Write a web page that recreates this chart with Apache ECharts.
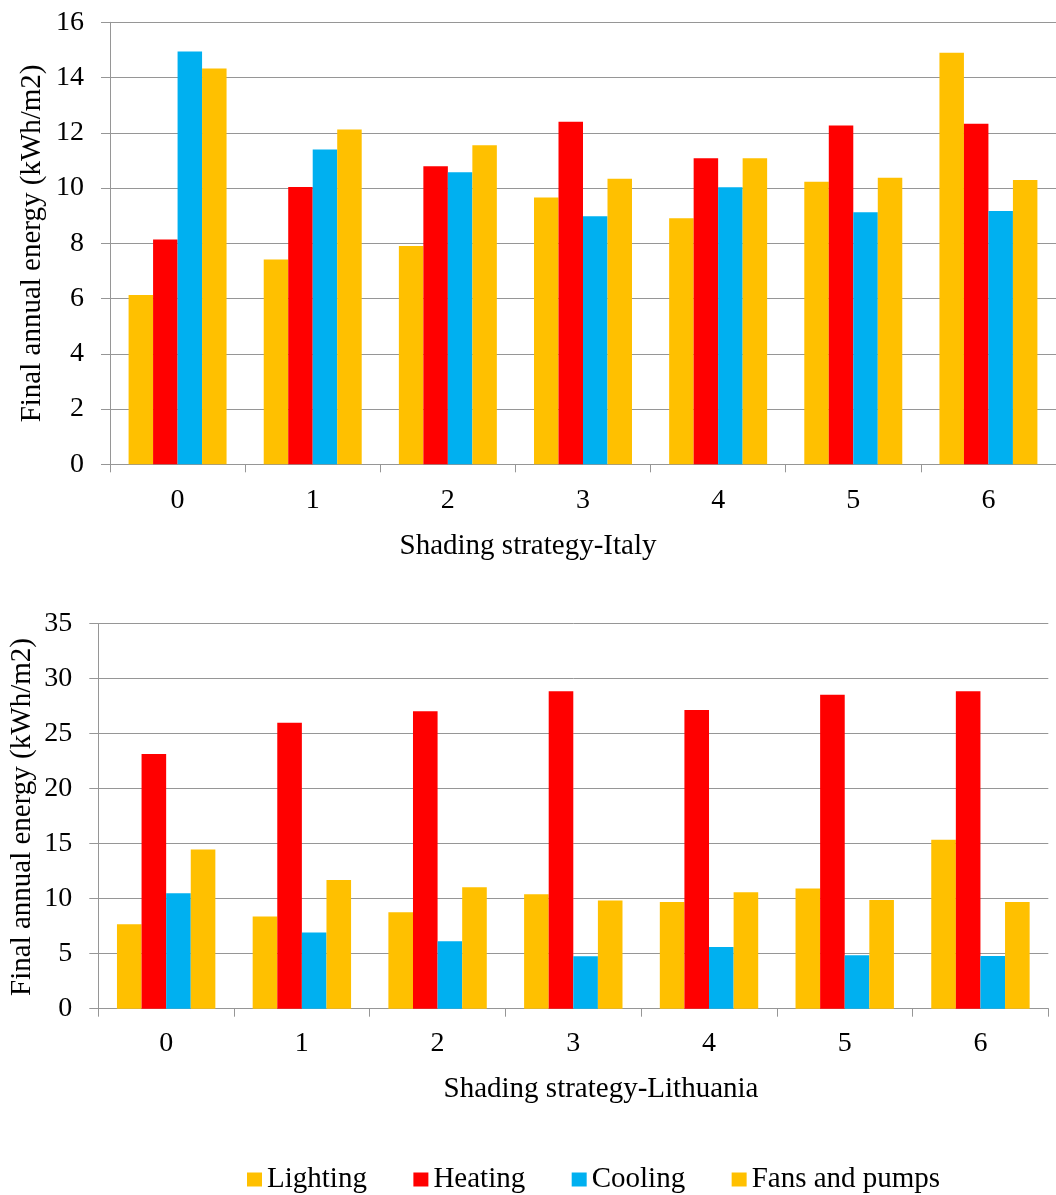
<!DOCTYPE html>
<html>
<head>
<meta charset="utf-8">
<style>
  html, body { margin: 0; padding: 0; background: #fff; }
  #chart { width: 1056px; height: 1195px; }
</style>
<script src="https://cdn.jsdelivr.net/npm/echarts@6/dist/echarts.min.js"></script>
</head>
<body>
<div id="chart"></div>
<script>
// Shading strategies on the category axis
const categories = ['0', '1', '2', '3', '4', '5', '6'];
const seriesNames = ['Lighting', 'Heating', 'Cooling', 'Fans and pumps'];

// Final annual energy, Italy (kWh/m2)
const italyLighting = [6.13, 7.41, 7.90, 9.66, 8.91, 10.23, 14.90];
const italyHeating  = [8.14, 10.04, 10.79, 12.40, 11.08, 12.26, 12.33];
const italyCooling  = [14.94, 11.40, 10.57, 8.98, 10.03, 9.12, 9.17];
const italyFans     = [14.33, 12.12, 11.55, 10.34, 11.08, 10.37, 10.29];

// Final annual energy, Lithuania (kWh/m2)
const lithLighting = [7.68, 8.38, 8.77, 10.41, 9.71, 10.92, 15.35];
const lithHeating  = [23.16, 25.99, 27.05, 28.87, 27.15, 28.54, 28.87];
const lithCooling  = [10.50, 6.92, 6.13, 4.76, 5.61, 4.85, 4.79];
const lithFans     = [14.48, 11.69, 11.05, 9.83, 10.59, 9.89, 9.71];

const colors = ['#FFC000', '#FF0000', '#00B0F0', '#FFC000'];
const FONT = '"Liberation Serif", "Times New Roman", serif';
const GRID_GRAY = '#969696';

function xAxisFor(gridIndex, labelMargin) {
  return {
    type: 'category',
    gridIndex: gridIndex,
    data: categories,
    axisLine: { lineStyle: { color: GRID_GRAY, width: 1 } },
    axisTick: { show: true, length: 8, lineStyle: { color: GRID_GRAY } },
    axisLabel: { color: '#000', fontFamily: FONT, fontSize: 28, margin: labelMargin }
  };
}

function yAxisFor(gridIndex, max, interval) {
  return {
    type: 'value',
    gridIndex: gridIndex,
    min: 0, max: max, interval: interval,
    axisLine: { show: true, lineStyle: { color: GRID_GRAY, width: 1 } },
    axisTick: { show: true, length: 9, lineStyle: { color: GRID_GRAY } },
    splitLine: { show: true, lineStyle: { color: GRID_GRAY, width: 1 } },
    axisLabel: { color: '#000', fontFamily: FONT, fontSize: 28, margin: 26 }
  };
}

function barSeries(name, data, idx, axisIdx) {
  return {
    name: name,
    type: 'bar',
    xAxisIndex: axisIdx,
    yAxisIndex: axisIdx,
    data: data,
    barGap: '0%',
    barCategoryGap: '27.5%',
    itemStyle: { color: colors[idx] },
    emphasis: { disabled: true },
    animation: false
  };
}

const italySets = [italyLighting, italyHeating, italyCooling, italyFans];
const lithSets = [lithLighting, lithHeating, lithCooling, lithFans];

const series = [];
italySets.forEach((d, i) => series.push(barSeries(seriesNames[i], d, i, 0)));
lithSets.forEach((d, i) => series.push(barSeries(seriesNames[i], d, i, 1)));

function titleText(text, x, y, rotated) {
  return {
    type: 'text',
    x: x, y: y,
    rotation: rotated ? Math.PI / 2 : 0,
    style: {
      text: text,
      font: '29px ' + FONT,
      fill: '#000',
      align: 'center',
      verticalAlign: 'middle'
    }
  };
}

const option = {
  backgroundColor: '#fff',
  animation: false,
  grid: [
    { left: 110, right: -4, top: 22.3, bottom: 730.7 },
    { left: 98.3, right: 7.7, top: 623.7, bottom: 186.3 }
  ],
  xAxis: [xAxisFor(0, 22), xAxisFor(1, 21)],
  yAxis: [yAxisFor(0, 16, 2), yAxisFor(1, 35, 5)],
  legend: {
    data: seriesNames,
    left: 242,
    top: 1160,
    icon: 'rect',
    itemWidth: 15,
    itemHeight: 14,
    itemGap: 46.5,
    textStyle: { color: '#000', fontFamily: FONT, fontSize: 29 },
    selectedMode: false
  },
  graphic: [
    titleText('Final annual energy (kWh/m2)', 32.5, 243.4, true),
    titleText('Shading strategy-Italy', 528, 546, false),
    titleText('Final annual energy (kWh/m2)', 22, 817, true),
    titleText('Shading strategy-Lithuania', 601, 1089, false)
  ],
  series: series
};

const chart = echarts.init(document.getElementById('chart'), null, { renderer: 'canvas' });
chart.setOption(option);
</script>
</body>
</html>
